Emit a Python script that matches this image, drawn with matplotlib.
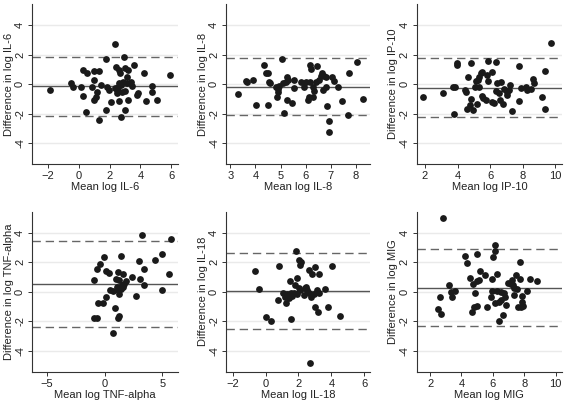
import matplotlib
matplotlib.use("Agg")
import matplotlib.pyplot as plt

plt.rcParams['font.family'] = ['Liberation Sans', 'DejaVu Sans']

# Panel data: (mean, difference) pairs
il6_x = [-1.89, -0.5, -0.41, 0.11, 0.28, 0.54, 0.24, 0.46, 0.85, 1.0, 1.33, 0.98, 1.15, 1.11,
         0.98, 1.3, 1.46, 1.76, 1.76, 1.85, 1.98, 2.09, 2.35, 2.43, 2.61, 2.67, 2.35, 2.5, 2.57,
         2.63, 2.72, 2.85, 2.46, 2.63, 2.78, 2.93, 3.0, 3.22, 3.11, 2.98, 2.74, 3.2, 3.37, 3.43,
         3.15, 3.61, 3.76, 3.87, 4.26, 4.35, 4.74, 4.74, 5.11, 5.93, 3.0]
il6_y = [-0.41, 0.05, -0.23, -0.18, 0.95, 0.72, -0.81, -1.88, -0.23, 0.9, 0.9, 0.27, -0.52, -0.86,
         -1.08, -2.44, -0.07, 1.72, -1.76, -0.23, -0.41, -1.2, 2.71, 1.13, 0.95, 0.72, -0.29, -0.41,
         -0.18, 0.05, -0.07, 0.16, -0.63, -1.13, -0.52, 1.85, 1.06, 0.95, 0.5, -1.76, -2.26, -1.08,
         0.16, -0.14, 0.05, 1.29, -0.75, -0.63, 0.77, -1.13, -0.11, -0.57, -1.08, 0.61, -0.45]

il8_x = [3.32, 3.61, 3.66, 3.9, 4.01, 4.33, 4.42, 4.51, 4.55, 4.58, 4.49, 4.8, 4.88, 4.94, 4.84,
         4.91, 5.07, 5.12, 5.08, 5.23, 5.27, 5.31, 5.27, 5.47, 5.52, 5.55, 5.81, 5.94, 6.0, 6.08,
         6.14, 6.17, 6.17, 6.2, 6.3, 6.28, 6.34, 6.43, 6.45, 6.53, 6.61, 6.67, 6.63, 6.71, 6.79,
         6.82, 6.85, 6.93, 6.94, 7.03, 7.11, 7.3, 7.43, 7.69, 7.72, 8.04, 8.29]
il8_y = [-0.68, 0.23, 0.16, 0.27, -1.45, 1.29, 0.77, 0.72, 0.16, 0.05, -1.4, -0.23, -0.36, -0.11,
         -0.86, -0.52, 1.67, -1.94, 0.05, 0.16, 0.5, 0.27, -1.08, -1.31, 0.27, -0.29, 0.16, -0.23,
         0.16, -1.08, -0.86, 0.16, 1.29, 0.99, -0.86, -0.23, -0.45, 0.16, 1.22, 0.27, 0.54, -0.41,
         0.72, 0.54, 0.45, -0.23, -1.49, -2.49, -3.25, 0.45, 0.23, -0.23, -1.18, -2.08, 0.77, 1.49,
         -1.04]

ip10_x = [1.86, 3.13, 3.72, 3.85, 3.8, 3.95, 3.97, 4.46, 4.52, 4.63, 4.81, 4.58, 4.77, 4.83, 4.95,
          5.08, 5.12, 5.2, 5.28, 5.34, 5.34, 5.45, 5.53, 5.49, 5.59, 5.73, 5.79, 5.86, 5.86, 6.1,
          6.1, 6.23, 6.35, 6.35, 6.45, 6.55, 6.62, 6.68, 6.78, 6.88, 7.03, 7.05, 7.13, 7.23, 7.37,
          7.78, 7.78, 7.91, 8.19, 8.28, 8.48, 8.6, 8.67, 9.18, 9.36, 9.38, 9.75]
ip10_y = [-0.86, -0.63, -0.23, -0.18, -2.06, 1.45, 1.27, -0.41, -0.52, 0.5, 1.45, -1.67, -1.4,
          -1.02, -1.76, -0.23, 0.18, -1.36, 0.27, -0.23, 0.5, 0.72, 0.81, -0.81, -0.97, -1.08,
          0.59, 0.2, 1.54, -1.22, 0.81, -1.31, 1.51, -0.45, 0.09, -0.59, -1.08, 0.16, -1.36, -0.36,
          -0.75, -0.52, -0.41, -0.07, -1.81, 1.22, -1.13, -0.29, -0.18, -0.41, -0.36, 0.34, 0.09,
          -0.86, 0.9, -1.72, 2.76]

tnf_x = [-0.97, -0.97, -0.68, -0.68, -0.45, -0.56, -0.16, -0.04, 0.07, 0.13, 0.33, 0.48, 0.76,
         0.71, 0.91, 0.99, 1.05, 1.11, 1.17, 1.28, 1.22, 1.11, 1.28, 1.4, 1.48, 1.57, 1.69, 1.8,
         1.4, 1.57, 2.32, 2.67, 2.95, 3.07, 3.24, 3.41, 3.41, 4.39, 4.97, 4.97, 5.55, 5.78]
tnf_y = [0.82, -1.75, -1.81, 1.57, 1.9, -0.75, -0.8, 2.35, -0.35, 1.39, 1.3, 0.1, 0.03, -2.83,
         -1.09, 0.89, 0.33, 1.34, -1.81, -1.66, 0.82, 0.1, -0.19, 0.15, 0.44, 0.33, 0.55, 0.71,
         2.4, 1.18, 1.0, -0.3, 2.08, 0.87, 3.82, 1.57, 0.42, 2.17, 2.53, 0.1, 1.18, 3.59]

il18_x = [-0.63, -0.39, 0.01, 0.35, 0.73, 0.85, 1.06, 1.18, 1.22, 1.32, 1.42, 1.54, 1.58, 1.46,
          1.52, 1.72, 1.82, 1.86, 1.92, 1.92, 2.02, 2.12, 2.02, 2.18, 2.12, 2.32, 2.38, 2.46, 2.52,
          2.62, 2.66, 2.74, 2.72, 2.82, 2.92, 2.98, 2.98, 3.13, 3.19, 3.23, 3.27, 3.59, 3.79, 4.03,
          4.51]
il18_y = [1.41, 0.21, -1.7, -1.97, -0.55, 1.72, -0.12, -0.35, -0.75, -0.19, -0.46, -0.12, -0.3,
          0.71, -1.88, -0.12, 0.44, 2.76, 0.93, -0.19, 0.28, 0.1, 2.17, 2.02, 1.79, -0.24, 0.28,
          0.33, 0.1, -0.08, 1.5, -0.39, -4.85, 1.23, -0.17, 1.68, -1.07, 0.1, -1.36, 1.23, -0.12,
          0.21, -1.02, 1.72, -1.66]

mig_x = [2.48, 2.65, 2.69, 2.82, 3.2, 3.33, 3.41, 3.58, 4.21, 4.38, 4.53, 4.67, 4.76, 4.84, 4.8,
         4.97, 4.97, 5.01, 5.09, 5.16, 5.47, 5.6, 5.89, 5.94, 5.94, 6.0, 6.11, 6.11, 6.15, 6.27,
         6.27, 6.42, 6.4, 6.53, 6.53, 6.63, 6.69, 6.78, 6.84, 6.95, 7.16, 7.2, 7.28, 7.33, 7.37,
         7.49, 7.54, 7.62, 7.71, 7.75, 7.79, 7.83, 7.87, 7.89, 8.17, 8.34, 8.8]
mig_y = [-1.14, -0.35, -1.48, 4.99, 0.44, -0.01, -0.39, 0.06, 2.42, 1.95, 0.96, -1.36, 0.51, -0.08,
         -1.02, 2.58, 0.73, -0.98, 0.82, 1.41, 1.11, -1.02, -0.39, 0.06, 0.84, 2.35, -0.8, 3.14,
         2.76, 1.23, 0.06, -1.97, -0.69, -0.57, -0.01, -1.59, -0.12, -0.39, -0.91, 0.6, 0.55, 0.82,
         0.44, -0.24, 0.28, 1.11, 0.21, -1.07, 1.99, 0.89, -1.07, -0.69, -0.3, -0.98, 0.06, 0.89,
         0.71]

names = ["IL-6", "IL-8", "IP-10", "TNF-alpha", "IL-18", "MIG"]
xs = [il6_x, il8_x, ip10_x, tnf_x, il18_x, mig_x]
ys = [il6_y, il8_y, ip10_y, tnf_y, il18_y, mig_y]
means = [-0.14, -0.18, -0.25, 0.51, 0.06, 0.26]
uppers = [1.85, 1.74, 1.74, 3.41, 2.65, 2.87]
lowers = [-2.15, -2.12, -2.21, -2.38, -2.53, -2.33]
xlims = [(-3.05, 6.45), (2.83, 8.56), (1.5, 10.4), (-6.3, 6.35), (-2.4, 6.35), (1.15, 10.4)]
xticks = [[-2, 0, 2, 4, 6], [3, 4, 5, 6, 7, 8], [2, 4, 6, 8, 10],
          [-5, 0, 5], [-2, 0, 2, 4, 6], [2, 4, 6, 8, 10]]

fig = plt.figure(figsize=(5.67, 4.03), dpi=100)
lefts = [0.0564, 0.3986, 0.735]
rights = [0.314, 0.6526, 0.991]
bottoms = [0.593, 0.0777]
tops = [0.990, 0.4747]

for i in range(6):
    r, c = divmod(i, 3)
    ax = fig.add_axes([lefts[c], bottoms[r], rights[c] - lefts[c], tops[r] - bottoms[r]])
    for g in [-4, -2, 0, 2, 4]:
        ax.axhline(g, color="#eaeaea", lw=1.0, zorder=0)
    ax.axhline(means[i], color="#555555", lw=1.0, zorder=1)
    ax.axhline(uppers[i], color="#666666", lw=1.0, ls=(0, (6, 3.5)), zorder=1)
    ax.axhline(lowers[i], color="#666666", lw=1.0, ls=(0, (6, 3.5)), zorder=1)
    ax.scatter(xs[i], ys[i], s=24, color="#1a1a1a", linewidths=0, zorder=3)
    ax.set_xlim(*xlims[i])
    ax.set_ylim(-5.42, 5.42)
    ax.set_xticks(xticks[i])
    ax.set_yticks([-4, -2, 0, 2, 4])
    ax.set_yticklabels(["-4", "-2", "0", "2", "4"], rotation=90, va="center")
    ax.spines["top"].set_visible(False)
    ax.spines["right"].set_visible(False)
    for s in ["left", "bottom"]:
        ax.spines[s].set_color("#333333")
        ax.spines[s].set_linewidth(0.8)
    ax.tick_params(length=3, width=0.7, color="#333333", labelcolor="#222222",
                   labelsize=8, pad=2)
    ax.set_xlabel("Mean log " + names[i], fontsize=8, labelpad=1, color="#222222")
    ax.set_ylabel("Difference in log " + names[i], fontsize=8, labelpad=1, color="#222222")

fig.savefig("out.png", dpi=100)
